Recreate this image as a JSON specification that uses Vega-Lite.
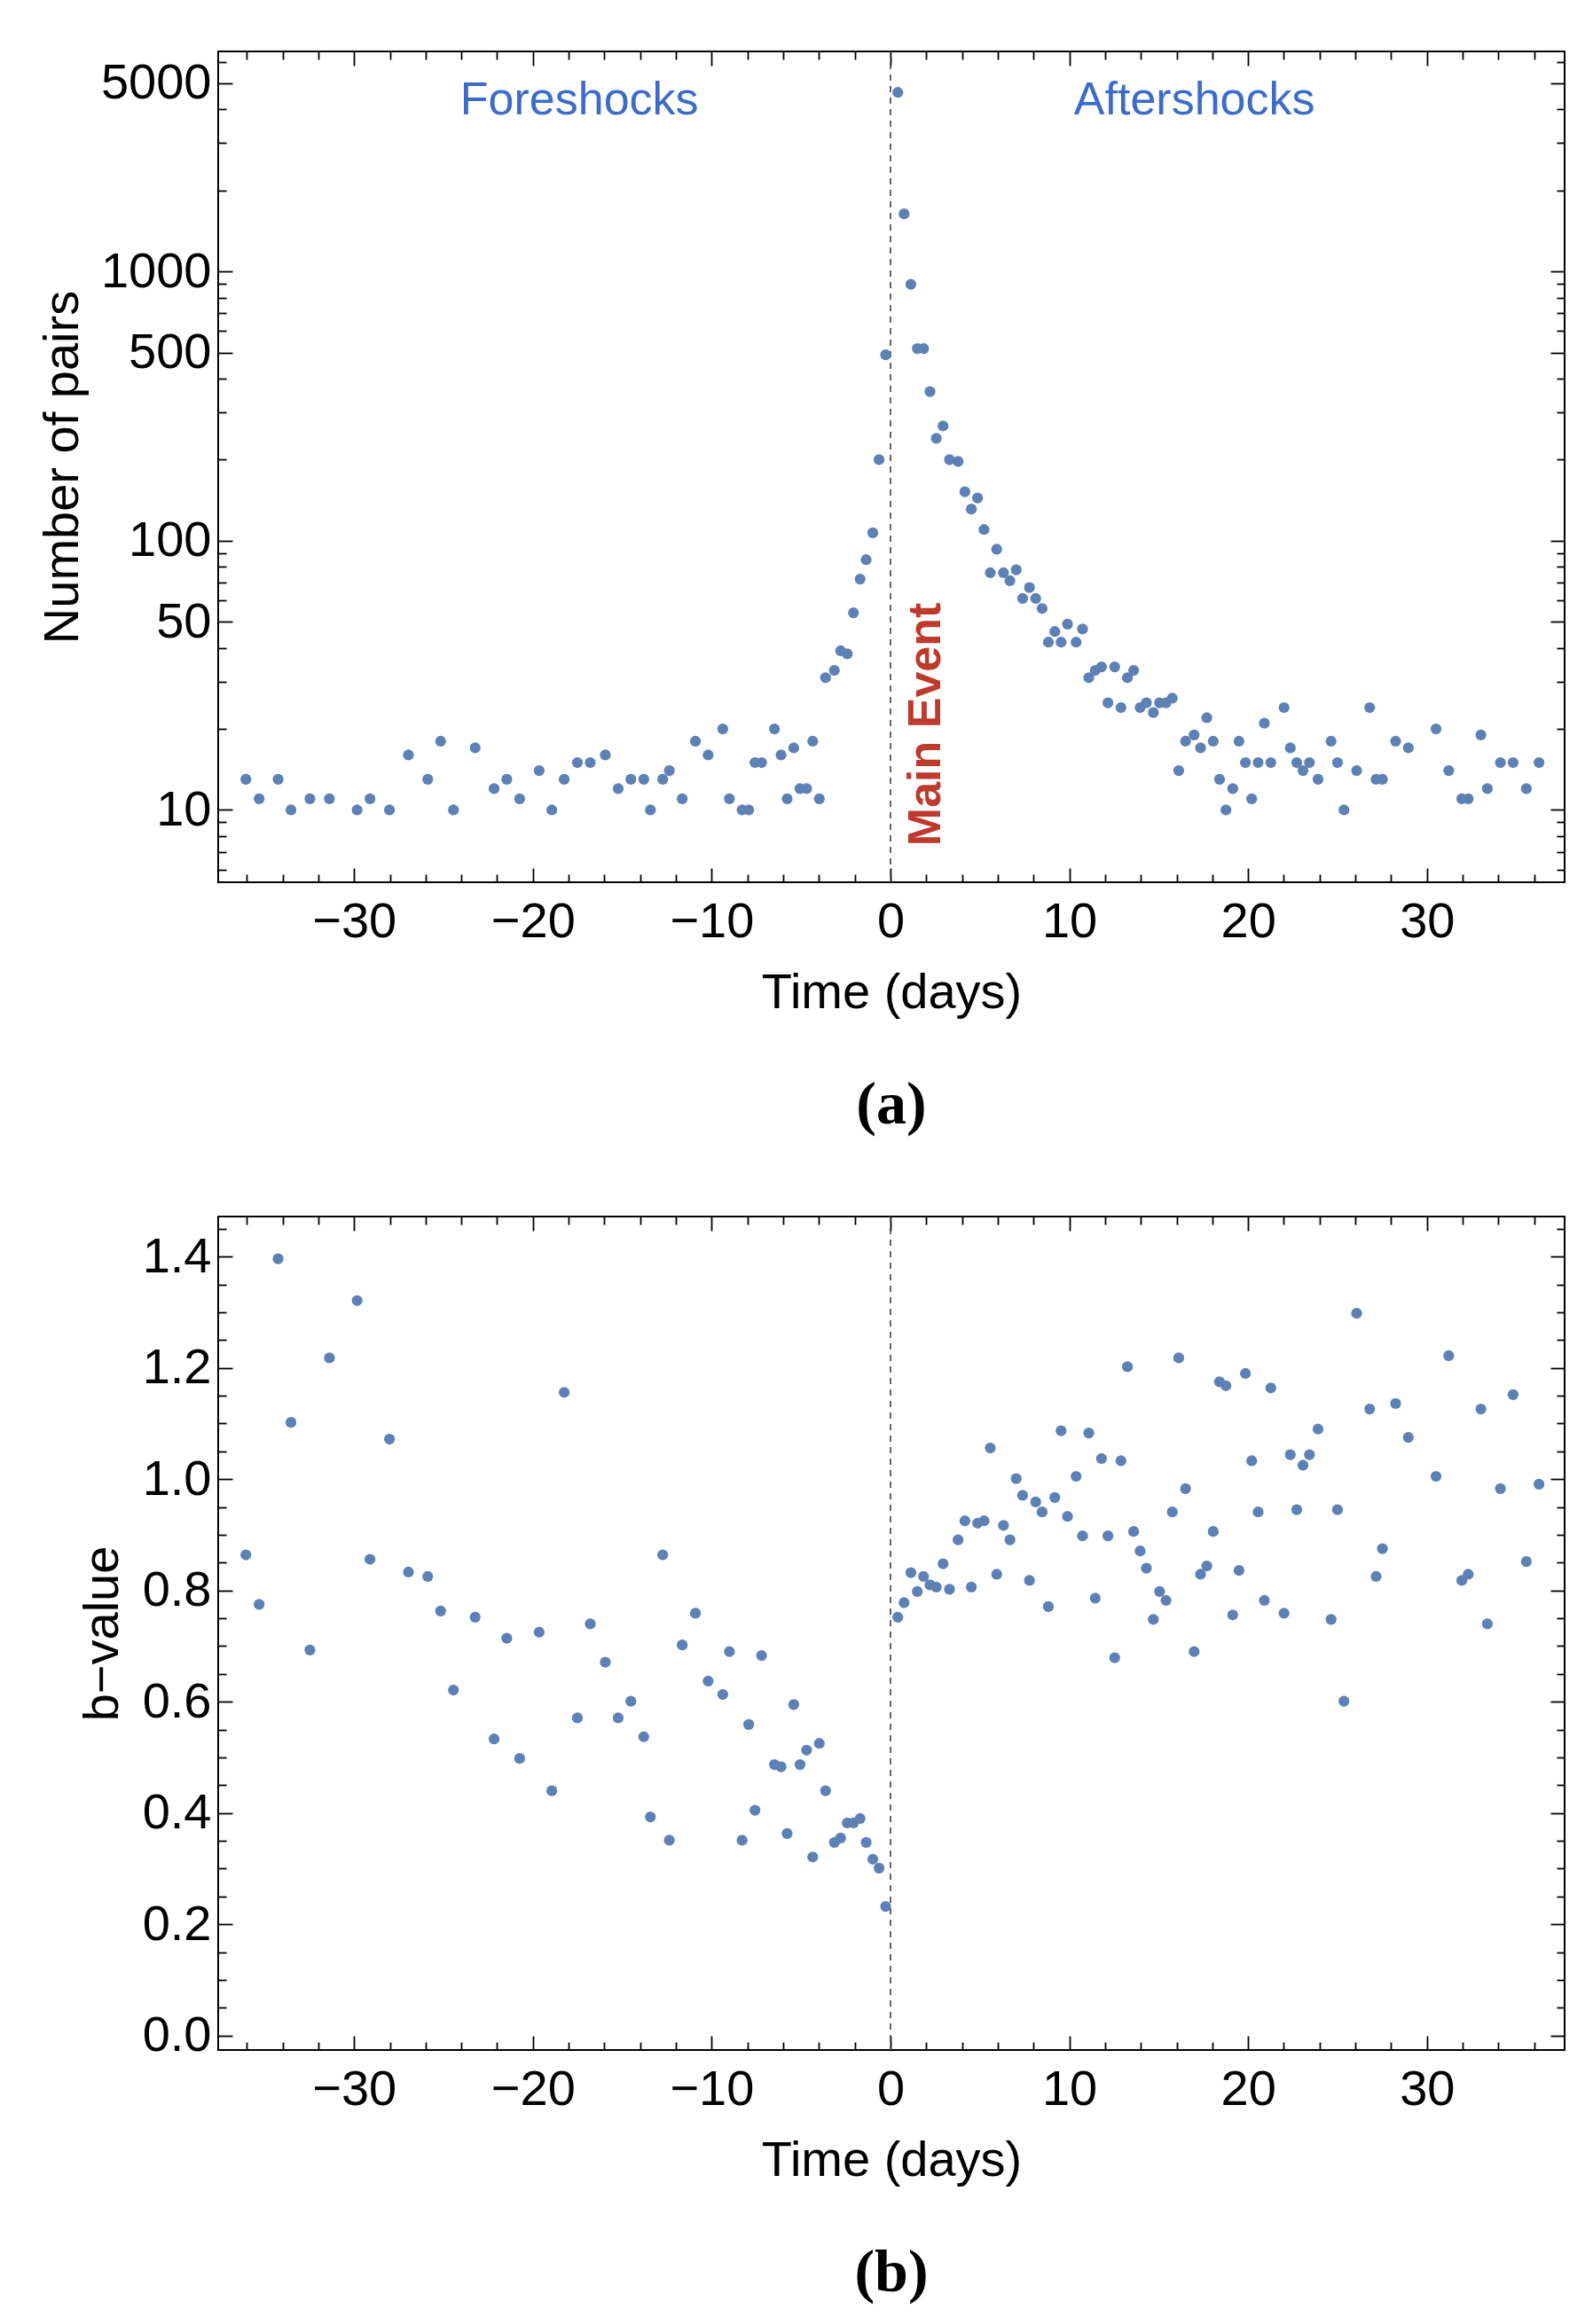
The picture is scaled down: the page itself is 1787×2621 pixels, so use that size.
{
  "$schema": "https://vega.github.io/schema/vega-lite/v6.json",
  "background": "white",
  "padding": {"left": 41, "top": 40, "right": 10, "bottom": 5},
  "config": {
    "view": {"stroke": "black", "strokeWidth": 2},
    "font": "Liberation Sans",
    "axis": {
      "domain": false,
      "grid": false,
      "labelFont": "Liberation Sans",
      "labelFontSize": 56,
      "labelColor": "black",
      "labelOverlap": false,
      "labelFlush": false,
      "labelBound": false,
      "titleFont": "Liberation Sans",
      "titleFontSize": 56,
      "titleFontWeight": "normal",
      "titleColor": "black",
      "tickColor": "black",
      "tickWidth": 1.8
    },
    "title": {"font": "Liberation Serif", "fontSize": 68, "fontWeight": "bold", "color": "black"}
  },
  "datasets": {
    "quakes": [
      {"t": -36.05, "n": 13, "b": 0.864},
      {"t": -35.31, "n": 11, "b": 0.775},
      {"t": -34.25, "n": 13, "b": 1.396},
      {"t": -33.53, "n": 10, "b": 1.102},
      {"t": -32.47, "n": 11, "b": 0.693},
      {"t": -31.38, "n": 11, "b": 1.218},
      {"t": -29.83, "n": 10, "b": 1.321},
      {"t": -29.11, "n": 11, "b": 0.856},
      {"t": -28.02, "n": 10, "b": 1.072},
      {"t": -26.96, "n": 16, "b": 0.833},
      {"t": -25.88, "n": 13, "b": 0.825},
      {"t": -25.16, "n": 18, "b": 0.763},
      {"t": -24.44, "n": 10, "b": 0.621},
      {"t": -23.23, "n": 17, "b": 0.752},
      {"t": -22.17, "n": 12, "b": 0.533},
      {"t": -21.46, "n": 13, "b": 0.714},
      {"t": -20.74, "n": 11, "b": 0.498},
      {"t": -19.65, "n": 14, "b": 0.725},
      {"t": -18.94, "n": 10, "b": 0.44},
      {"t": -18.25, "n": 13, "b": 1.156},
      {"t": -17.51, "n": 15, "b": 0.571},
      {"t": -16.79, "n": 15, "b": 0.74},
      {"t": -15.95, "n": 16, "b": 0.671},
      {"t": -15.23, "n": 12, "b": 0.571},
      {"t": -14.52, "n": 13, "b": 0.601},
      {"t": -13.8, "n": 13, "b": 0.537},
      {"t": -13.43, "n": 10, "b": 0.393},
      {"t": -12.74, "n": 13, "b": 0.864},
      {"t": -12.37, "n": 14, "b": 0.351},
      {"t": -11.65, "n": 11, "b": 0.702},
      {"t": -10.91, "n": 18, "b": 0.759},
      {"t": -10.2, "n": 16, "b": 0.637},
      {"t": -9.38, "n": 20, "b": 0.613},
      {"t": -9.01, "n": 11, "b": 0.69},
      {"t": -8.3, "n": 10, "b": 0.351},
      {"t": -7.93, "n": 10, "b": 0.559},
      {"t": -7.58, "n": 15, "b": 0.405},
      {"t": -7.21, "n": 15, "b": 0.683},
      {"t": -6.49, "n": 20, "b": 0.487},
      {"t": -6.12, "n": 16, "b": 0.483},
      {"t": -5.78, "n": 11, "b": 0.363},
      {"t": -5.41, "n": 17, "b": 0.595},
      {"t": -5.06, "n": 12, "b": 0.487},
      {"t": -4.69, "n": 12, "b": 0.513},
      {"t": -4.35, "n": 18, "b": 0.321},
      {"t": -3.98, "n": 11, "b": 0.525},
      {"t": -3.63, "n": 31, "b": 0.44},
      {"t": -3.14, "n": 33, "b": 0.347},
      {"t": -2.79, "n": 39, "b": 0.355},
      {"t": -2.42, "n": 38, "b": 0.382},
      {"t": -2.07, "n": 54, "b": 0.382},
      {"t": -1.7, "n": 72, "b": 0.39},
      {"t": -1.36, "n": 85, "b": 0.347},
      {"t": -0.99, "n": 107, "b": 0.317},
      {"t": -0.64, "n": 200, "b": 0.301},
      {"t": -0.27, "n": 490, "b": 0.232},
      {"t": 0.41, "n": 4620, "b": 0.752},
      {"t": 0.76, "n": 1636, "b": 0.778},
      {"t": 1.14, "n": 895, "b": 0.832},
      {"t": 1.5, "n": 517, "b": 0.798},
      {"t": 1.85, "n": 517, "b": 0.825},
      {"t": 2.21, "n": 358, "b": 0.81},
      {"t": 2.56, "n": 240, "b": 0.806},
      {"t": 2.94, "n": 267, "b": 0.848},
      {"t": 3.3, "n": 200, "b": 0.802},
      {"t": 3.78, "n": 197, "b": 0.891},
      {"t": 4.16, "n": 152, "b": 0.925},
      {"t": 4.52, "n": 131, "b": 0.806},
      {"t": 4.87, "n": 144, "b": 0.921},
      {"t": 5.23, "n": 110, "b": 0.925},
      {"t": 5.58, "n": 76, "b": 1.056},
      {"t": 5.94, "n": 93, "b": 0.829},
      {"t": 6.32, "n": 76, "b": 0.917},
      {"t": 6.68, "n": 71, "b": 0.891},
      {"t": 7.03, "n": 78, "b": 1.001},
      {"t": 7.39, "n": 61, "b": 0.971},
      {"t": 7.77, "n": 67, "b": 0.818},
      {"t": 8.12, "n": 61, "b": 0.959},
      {"t": 8.48, "n": 56, "b": 0.941},
      {"t": 8.83, "n": 42, "b": 0.771},
      {"t": 9.19, "n": 46, "b": 0.967},
      {"t": 9.54, "n": 42, "b": 1.087},
      {"t": 9.9, "n": 49, "b": 0.933},
      {"t": 10.38, "n": 42, "b": 1.005},
      {"t": 10.74, "n": 47, "b": 0.898},
      {"t": 11.09, "n": 31, "b": 1.083},
      {"t": 11.45, "n": 33, "b": 0.786},
      {"t": 11.8, "n": 34, "b": 1.037},
      {"t": 12.16, "n": 25, "b": 0.898},
      {"t": 12.54, "n": 34, "b": 0.679},
      {"t": 12.89, "n": 24, "b": 1.033},
      {"t": 13.25, "n": 31, "b": 1.202},
      {"t": 13.6, "n": 33, "b": 0.906},
      {"t": 13.96, "n": 24, "b": 0.871},
      {"t": 14.31, "n": 25, "b": 0.84},
      {"t": 14.7, "n": 23, "b": 0.748},
      {"t": 15.05, "n": 25, "b": 0.798},
      {"t": 15.41, "n": 25, "b": 0.782},
      {"t": 15.76, "n": 26, "b": 0.941},
      {"t": 16.12, "n": 14, "b": 1.218},
      {"t": 16.5, "n": 18, "b": 0.983},
      {"t": 16.98, "n": 19, "b": 0.69},
      {"t": 17.34, "n": 17, "b": 0.829},
      {"t": 17.69, "n": 22, "b": 0.844},
      {"t": 18.05, "n": 18, "b": 0.906},
      {"t": 18.4, "n": 13, "b": 1.175},
      {"t": 18.76, "n": 10, "b": 1.168},
      {"t": 19.14, "n": 12, "b": 0.756},
      {"t": 19.49, "n": 18, "b": 0.836},
      {"t": 19.85, "n": 15, "b": 1.19},
      {"t": 20.2, "n": 11, "b": 1.033},
      {"t": 20.56, "n": 15, "b": 0.941},
      {"t": 20.91, "n": 21, "b": 0.782},
      {"t": 21.27, "n": 15, "b": 1.164},
      {"t": 22.01, "n": 24, "b": 0.759},
      {"t": 22.36, "n": 17, "b": 1.044},
      {"t": 22.72, "n": 15, "b": 0.945},
      {"t": 23.07, "n": 14, "b": 1.025},
      {"t": 23.43, "n": 15, "b": 1.044},
      {"t": 23.91, "n": 13, "b": 1.09},
      {"t": 24.64, "n": 18, "b": 0.748},
      {"t": 25.0, "n": 15, "b": 0.945},
      {"t": 25.36, "n": 10, "b": 0.601},
      {"t": 26.07, "n": 14, "b": 1.298},
      {"t": 26.8, "n": 24, "b": 1.126},
      {"t": 27.16, "n": 13, "b": 0.825},
      {"t": 27.51, "n": 13, "b": 0.875},
      {"t": 28.25, "n": 18, "b": 1.136},
      {"t": 28.96, "n": 17, "b": 1.075},
      {"t": 30.51, "n": 20, "b": 1.005},
      {"t": 31.22, "n": 14, "b": 1.222},
      {"t": 31.95, "n": 11, "b": 0.818},
      {"t": 32.31, "n": 11, "b": 0.829},
      {"t": 33.02, "n": 19, "b": 1.126},
      {"t": 33.38, "n": 12, "b": 0.74},
      {"t": 34.11, "n": 15, "b": 0.983},
      {"t": 34.82, "n": 15, "b": 1.152},
      {"t": 35.56, "n": 12, "b": 0.852},
      {"t": 36.27, "n": 15, "b": 0.991}
    ]
  },
  "spacing": 74,
  "vconcat": [
    {
      "title": {"text": "(a)", "orient": "bottom", "anchor": "middle", "offset": 66},
      "width": 1518,
      "height": 937,
      "resolve": {"axis": {"x": "independent", "y": "independent"}},
      "layer": [
        {
          "data": {"values": [{}]},
          "mark": {"type": "rule", "strokeDash": [7, 6], "color": "#4a4a4a", "strokeWidth": 1.7},
          "encoding": {"x": {"datum": 0, "type": "quantitative", "axis": null}}
        },
        {
          "data": {"name": "quakes"},
          "mark": {"type": "point", "filled": true, "opacity": 1, "size": 150, "color": "#5E81B5"},
          "encoding": {
            "x": {
              "field": "t", "type": "quantitative",
              "scale": {"domain": [-37.6, 37.7], "nice": false, "zero": false},
              "axis": {
                "orient": "bottom",
                "values": [-36,-34,-32,-30,-28,-26,-24,-22,-20,-18,-16,-14,-12,-10,-8,-6,-4,-2,0,2,4,6,8,10,12,14,16,18,20,22,24,26,28,30,32,34,36],
                "labelExpr": "datum.value % 10 === 0 ? format(datum.value, 'd') : ''",
                "tickSize": {"expr": "datum.value % 10 === 0 ? -16 : -9"},
                "labelPadding": 33,
                "title": "Time (days)",
                "titlePadding": 18
              }
            },
            "y": {
              "field": "n", "type": "quantitative",
              "scale": {"type": "log", "domain": [5.39, 6560], "nice": false},
              "axis": {
                "orient": "left",
                "values": [6,7,8,9,10,20,30,40,50,60,70,80,90,100,200,300,400,500,600,700,800,900,1000,2000,3000,4000,5000,6000],
                "labelExpr": "indexof([10,50,100,500,1000,5000], datum.value) >= 0 ? format(datum.value, 'd') : ''",
                "tickSize": {"expr": "indexof([10,50,100,500,1000,5000], datum.value) >= 0 ? -16 : -9"},
                "labelPadding": 24,
                "title": "Number of pairs",
                "titlePadding": 14
              }
            }
          }
        },
        {
          "data": {"name": "quakes"},
          "mark": {"type": "point", "opacity": 0},
          "encoding": {
            "x": {
              "field": "t", "type": "quantitative",
              "axis": {
                "orient": "top",
                "values": [-36,-34,-32,-30,-28,-26,-24,-22,-20,-18,-16,-14,-12,-10,-8,-6,-4,-2,0,2,4,6,8,10,12,14,16,18,20,22,24,26,28,30,32,34,36],
                "labels": false,
                "tickSize": {"expr": "datum.value % 10 === 0 ? -16 : -9"},
                "title": null
              }
            },
            "y": {
              "field": "n", "type": "quantitative",
              "axis": {
                "orient": "right",
                "values": [6,7,8,9,10,20,30,40,50,60,70,80,90,100,200,300,400,500,600,700,800,900,1000,2000,3000,4000,5000,6000],
                "labels": false,
                "tickSize": {"expr": "indexof([10,50,100,500,1000,5000], datum.value) >= 0 ? -16 : -9"},
                "title": null
              }
            }
          }
        },
        {
          "data": {"values": [{}]},
          "mark": {"type": "text", "text": "Foreshocks", "font": "Liberation Sans", "fontSize": 52, "color": "#3C6BC9", "align": "center", "baseline": "middle"},
          "encoding": {
            "x": {"datum": -17.4, "type": "quantitative", "axis": null},
            "y": {"datum": 4325, "type": "quantitative", "axis": null}
          }
        },
        {
          "data": {"values": [{}]},
          "mark": {"type": "text", "text": "Aftershocks", "font": "Liberation Sans", "fontSize": 52, "color": "#3C6BC9", "align": "center", "baseline": "middle"},
          "encoding": {
            "x": {"datum": 17.0, "type": "quantitative", "axis": null},
            "y": {"datum": 4325, "type": "quantitative", "axis": null}
          }
        },
        {
          "data": {"values": [{}]},
          "mark": {"type": "text", "text": "Main Event", "font": "Liberation Sans", "fontSize": 52, "fontWeight": "bold", "angle": 270, "color": "#BD3A2C", "align": "center", "baseline": "middle"},
          "encoding": {
            "x": {"datum": 2.0, "type": "quantitative", "axis": null},
            "y": {"datum": 20.8, "type": "quantitative", "axis": null}
          }
        }
      ]
    },
    {
      "title": {"text": "(b)", "orient": "bottom", "anchor": "middle", "offset": 66},
      "width": 1518,
      "height": 940,
      "resolve": {"axis": {"x": "independent", "y": "independent"}},
      "layer": [
        {
          "data": {"values": [{}]},
          "mark": {"type": "rule", "strokeDash": [7, 6], "color": "#4a4a4a", "strokeWidth": 1.7},
          "encoding": {"x": {"datum": 0, "type": "quantitative", "axis": null}}
        },
        {
          "data": {"name": "quakes"},
          "mark": {"type": "point", "filled": true, "opacity": 1, "size": 150, "color": "#5E81B5"},
          "encoding": {
            "x": {
              "field": "t", "type": "quantitative",
              "scale": {"domain": [-37.6, 37.7], "nice": false, "zero": false},
              "axis": {
                "orient": "bottom",
                "values": [-36,-34,-32,-30,-28,-26,-24,-22,-20,-18,-16,-14,-12,-10,-8,-6,-4,-2,0,2,4,6,8,10,12,14,16,18,20,22,24,26,28,30,32,34,36],
                "labelExpr": "datum.value % 10 === 0 ? format(datum.value, 'd') : ''",
                "tickSize": {"expr": "datum.value % 10 === 0 ? -16 : -9"},
                "labelPadding": 33,
                "title": "Time (days)",
                "titlePadding": 18
              }
            },
            "y": {
              "field": "b", "type": "quantitative",
              "scale": {"domain": [-0.026, 1.472], "nice": false, "zero": false},
              "axis": {
                "orient": "left",
                "values": [0,0.05,0.1,0.15,0.2,0.25,0.3,0.35,0.4,0.45,0.5,0.55,0.6,0.65,0.7,0.75,0.8,0.85,0.9,0.95,1,1.05,1.1,1.15,1.2,1.25,1.3,1.35,1.4,1.45],
                "labelExpr": "round(datum.value * 100) % 20 === 0 ? format(datum.value, '.1f') : ''",
                "tickSize": {"expr": "round(datum.value * 100) % 20 === 0 ? -16 : -9"},
                "labelPadding": 24,
                "title": "b−value",
                "titlePadding": 16
              }
            }
          }
        },
        {
          "data": {"name": "quakes"},
          "mark": {"type": "point", "opacity": 0},
          "encoding": {
            "x": {
              "field": "t", "type": "quantitative",
              "axis": {
                "orient": "top",
                "values": [-36,-34,-32,-30,-28,-26,-24,-22,-20,-18,-16,-14,-12,-10,-8,-6,-4,-2,0,2,4,6,8,10,12,14,16,18,20,22,24,26,28,30,32,34,36],
                "labels": false,
                "tickSize": {"expr": "datum.value % 10 === 0 ? -16 : -9"},
                "title": null
              }
            },
            "y": {
              "field": "b", "type": "quantitative",
              "axis": {
                "orient": "right",
                "values": [0,0.05,0.1,0.15,0.2,0.25,0.3,0.35,0.4,0.45,0.5,0.55,0.6,0.65,0.7,0.75,0.8,0.85,0.9,0.95,1,1.05,1.1,1.15,1.2,1.25,1.3,1.35,1.4,1.45],
                "labels": false,
                "tickSize": {"expr": "round(datum.value * 100) % 20 === 0 ? -16 : -9"},
                "title": null
              }
            }
          }
        }
      ]
    }
  ]
}
